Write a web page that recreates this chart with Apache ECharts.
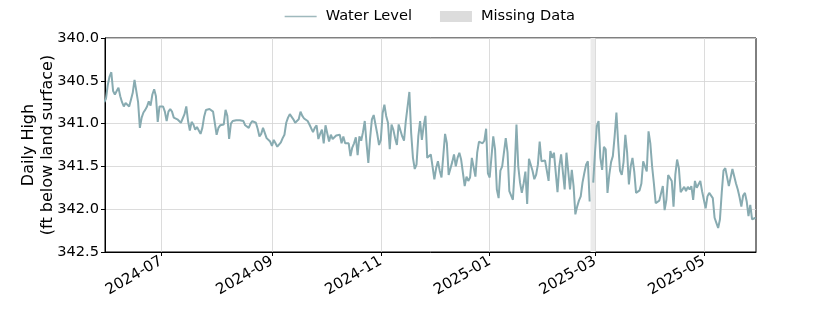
<!DOCTYPE html>
<html><head><meta charset="utf-8">
<script src="https://cdn.jsdelivr.net/npm/echarts@6/dist/echarts.min.js"></script>
<style>html,body{margin:0;padding:0;background:#fff}#c{width:840px;height:315px}</style>
</head><body><div id="c"></div>
<script>
// first date of the daily series
const startDate = [2024, 5, 30];
// Daily high water level (ft below land surface), one value per day; null = missing
const waterLevel = [
340.75,340.71,340.55,340.45,340.40,340.62,340.66,340.62,340.58,340.68,
340.75,340.80,340.76,340.75,340.80,340.72,340.64,340.49,340.50,340.75,
341.05,340.93,340.87,340.84,340.80,340.74,340.79,340.66,340.60,340.68,
340.98,340.80,340.78,340.80,340.86,340.97,340.86,340.83,340.86,340.93,
340.95,340.95,340.96,340.99,341.01,340.89,340.80,340.97,341.08,340.98,
341.01,341.07,341.04,341.05,341.12,341.05,340.92,340.84,340.86,340.83,
340.85,340.86,340.86,341.13,341.05,341.02,341.01,341.01,340.84,340.91,
341.18,341.00,340.97,340.96,340.96,340.95,340.96,340.96,340.97,341.02,
341.04,341.05,341.00,340.97,340.96,340.99,341.06,341.15,341.12,341.05,
341.06,341.17,341.17,341.21,341.26,341.19,341.23,341.27,341.28,341.22,
341.17,341.13,340.99,340.93,340.89,340.87,340.95,340.99,341.01,340.95,
340.86,340.91,340.94,340.95,340.97,341.01,341.01,341.10,341.05,341.02,
341.18,341.12,341.07,341.23,341.02,341.01,341.21,341.13,341.18,341.18,
341.14,341.12,341.13,341.23,341.15,341.23,341.21,341.23,341.38,341.28,
341.23,341.16,341.37,341.15,341.20,341.10,340.97,341.23,341.46,341.17,
340.95,340.90,340.89,341.12,341.25,341.19,340.88,340.78,340.91,340.99,
341.30,341.01,341.07,341.17,341.25,341.01,341.01,341.15,341.20,340.97,
340.95,340.63,341.11,341.40,341.53,341.48,341.15,340.97,341.19,341.03,
340.91,341.40,341.38,341.36,341.36,341.65,341.52,341.44,341.55,341.63,
341.65,341.12,341.23,341.60,341.58,341.45,341.36,341.50,341.40,341.34,
341.42,341.42,341.73,341.62,341.67,341.63,341.40,341.40,341.62,341.34,
341.21,341.23,341.23,341.20,341.06,341.58,341.63,341.63,341.15,341.30,
341.77,341.87,341.55,341.50,341.49,341.17,341.34,341.79,341.77,341.89,
341.54,341.01,341.50,341.69,341.81,341.70,341.56,341.94,341.41,341.41,
341.55,341.65,341.60,341.48,341.21,341.44,341.43,341.43,341.42,341.67,
341.32,341.40,341.34,341.35,341.80,341.50,341.36,341.34,341.77,341.34,
341.35,341.77,341.54,341.73,342.06,341.97,341.90,341.85,341.69,341.58,
341.48,341.44,341.91,null,341.69,341.34,341.03,340.97,341.40,341.54,
341.27,341.30,341.81,341.60,341.45,341.38,341.15,340.87,341.23,341.55,
341.60,341.45,341.13,341.34,341.71,341.50,341.40,341.56,341.81,341.83,
341.78,341.70,341.44,341.42,341.56,341.09,341.23,341.50,341.70,341.93,
341.91,341.90,341.89,341.73,342.01,341.89,341.60,341.58,341.67,341.97,
341.60,341.42,341.52,341.80,341.80,341.74,341.79,341.74,341.77,341.73,
341.89,341.67,341.75,341.75,341.67,341.79,341.77,341.99,341.85,341.81,
341.82,341.87,342.10,342.16,342.22,342.12,341.81,341.55,341.52,341.54,
341.73,341.75,341.53,341.54,341.70,341.77,341.86,341.97,341.84,341.81,
341.91,342.08,341.95,342.12,342.14,342.10
];
const missingPeriod = [[2025, 2, 26, 12], [2025, 3, 1, 0]];
const xRange = [[2024, 5, 30, 11], [2025, 5, 30, 5]];
const xTickDates = [[2024, 7, 1], [2024, 9, 1], [2024, 11, 1], [2025, 1, 1], [2025, 3, 1], [2025, 5, 1]];
const yRange = [340.0, 342.5];
const yStep = 0.5;

const toTime = a => new Date(a[0], a[1] - 1, a[2], a[3] || 0).getTime();
const seriesData = waterLevel.map((v, i) => {
  const d = new Date(startDate[0], startDate[1] - 1, startDate[2] + i);
  return [d.getTime(), v];
});
const tickTimes = xTickDates.map(a => toTime(a));
const pad = n => (n < 10 ? '0' : '') + n;
const FONT = 'DejaVu Sans';
const LINE_COLOR = '#88abb1';

const chart = echarts.init(document.getElementById('c'), null, {renderer: 'canvas'});
chart.setOption({
  animation: false,
  backgroundColor: '#fff',
  textStyle: {fontFamily: FONT},
  legend: {
    top: 4, left: 279, itemGap: 28, itemWidth: 32, itemHeight: 11,
    textStyle: {fontFamily: FONT, fontSize: 14.6, color: '#000', padding: [0, 0, 0, 4]},
    data: [
      {name: 'Water Level', itemStyle: {opacity: 0}, lineStyle: {color: '#9fb9bd', width: 1.3}},
      {name: 'Missing Data', icon: 'rect', itemStyle: {color: '#dcdcdc'}}
    ]
  },
  grid: {left: 105, right: 84, top: 38, bottom: 63, show: true, borderColor: '#000', borderWidth: 1, backgroundColor: 'transparent'},
  xAxis: {
    type: 'value', min: toTime(xRange[0]), max: toTime(xRange[1]),
    axisLine: {show: true, onZero: false, lineStyle: {color: '#000', width: 1}},
    axisTick: {show: true, customValues: tickTimes, length: 4, lineStyle: {color: '#000'}},
    axisLabel: {
      customValues: tickTimes, rotate: 30, fontSize: 15, color: '#000', fontFamily: FONT, margin: 8,
      formatter: v => { const d = new Date(v); return d.getFullYear() + '-' + pad(d.getMonth() + 1); }
    },
    splitLine: {show: true, lineStyle: {color: '#d3d3d3', width: 0.8}}
  },
  yAxis: {
    type: 'value', inverse: true, min: yRange[0], max: yRange[1], interval: yStep,
    axisLine: {show: true, lineStyle: {color: '#000', width: 1}},
    axisTick: {show: true, length: 4, lineStyle: {color: '#000'}},
    axisLabel: {fontSize: 14.6, color: '#000', fontFamily: FONT, margin: 6, formatter: v => v.toFixed(1)},
    splitLine: {show: true, lineStyle: {color: '#d3d3d3', width: 0.8}},
    name: 'Daily High\n(ft below land surface)', nameLocation: 'middle', nameGap: 48, nameMoveOverlap: false,
    nameTextStyle: {fontSize: 16, color: '#000', fontFamily: FONT, lineHeight: 19}
  },
  series: [
    {
      name: 'Missing Data', type: 'line', data: [], symbol: 'none',
      itemStyle: {color: '#dcdcdc'}, lineStyle: {color: '#dcdcdc'},
      markArea: {silent: true, itemStyle: {color: '#ebebeb'}, data: [[{xAxis: toTime(missingPeriod[0])}, {xAxis: toTime(missingPeriod[1])}]]}
    },
    {
      name: 'Water Level', type: 'line', data: seriesData, symbol: 'none', showSymbol: false,
      connectNulls: false, clip: true,
      itemStyle: {color: LINE_COLOR}, lineStyle: {color: LINE_COLOR, width: 2}
    }
  ]
});
</script>
</body></html>
